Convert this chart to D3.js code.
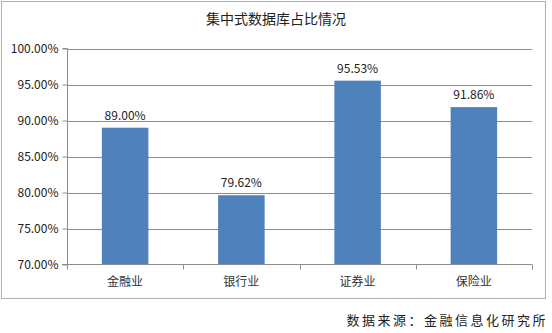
<!DOCTYPE html>
<html><head><meta charset="utf-8">
<script src="https://cdn.jsdelivr.net/npm/d3@7"></script>
<style>body{margin:0;background:#fff}svg{display:block}</style>
</head><body>
<script>
const title = "集中式数据库占比情况";
const categories = ["金融业", "银行业", "证券业", "保险业"];
const values = [89.00, 79.62, 95.53, 91.86];
const yTicks = [70, 75, 80, 85, 90, 95, 100];
const source = "数据来源：金融信息化研究所";

const W = 552, H = 333;
const svg = d3.select("body").append("svg").attr("width", W).attr("height", H);
const font = "'Noto Sans CJK SC', 'Noto Sans', sans-serif";

svg.append("rect").attr("x", 1.5).attr("y", 1.5).attr("width", 544).attr("height", 297)
  .attr("fill", "#fff").attr("stroke", "#b0b0b0").attr("stroke-width", 1);

const x = d3.scaleBand().domain(categories).range([67, 532]).paddingInner(0.6).paddingOuter(0.3);
const xOuter = d3.scaleBand().domain(categories).range([67, 532]);
const y = d3.scaleLinear().domain([70, 100]).range([264.5, 48.5]);

// gridlines
svg.append("g").selectAll("line").data(yTicks.slice(1)).join("line")
  .attr("x1", 67).attr("x2", 532).attr("y1", d => Math.round(y(d)) + 0.5).attr("y2", d => Math.round(y(d)) + 0.5)
  .attr("stroke", "#8c8c8c").attr("stroke-width", 1);

// y axis
const yAxis = d3.axisLeft(y).tickValues(yTicks).tickFormat(d => d.toFixed(2) + "%").tickSize(5).tickPadding(4);
const gy = svg.append("g").attr("transform", "translate(67.5,0)").call(yAxis);
gy.select(".domain").attr("stroke", "#8c8c8c").attr("d", `M-5,${y(100)}H0V${y(70)}H-5`);
gy.selectAll(".tick line").attr("stroke", "#8c8c8c");
gy.selectAll("text").attr("font-family", font).attr("font-size", 12).attr("fill", "#222");

// bars
svg.append("g").selectAll("rect").data(values).join("rect")
  .attr("x", (d, i) => x(categories[i]))
  .attr("width", x.bandwidth())
  .attr("y", d => y(d))
  .attr("height", d => y(70) - y(d))
  .attr("fill", "#4f81bd");

// value labels
svg.append("g").selectAll("text").data(values).join("text")
  .attr("x", (d, i) => x(categories[i]) + x.bandwidth() / 2)
  .attr("y", d => y(d) - 8)
  .attr("text-anchor", "middle").attr("font-family", font).attr("font-size", 12).attr("fill", "#222")
  .text(d => d.toFixed(2) + "%");

// x axis
const gx = svg.append("g").attr("transform", `translate(0,${y(70)})`);
gx.append("line").attr("x1", 62).attr("x2", 532).attr("y1", 0).attr("y2", 0).attr("stroke", "#8c8c8c");
const xTickPos = [67].concat(categories.map(c => xOuter(c) + xOuter.bandwidth()));
gx.selectAll("line.t").data(xTickPos).join("line").attr("class", "t")
  .attr("x1", d => Math.round(d) + 0.5).attr("x2", d => Math.round(d) + 0.5).attr("y1", 0).attr("y2", 5).attr("stroke", "#8c8c8c");
gx.selectAll("text").data(categories).join("text")
  .attr("x", d => xOuter(d) + xOuter.bandwidth() / 2).attr("y", 21)
  .attr("text-anchor", "middle").attr("font-family", font).attr("font-size", 12).attr("fill", "#333")
  .text(d => d);

// title
svg.append("text").attr("x", 276).attr("y", 24).attr("text-anchor", "middle")
  .attr("font-family", font).attr("font-size", 14).attr("fill", "#222").text(title);

// source
svg.append("text").attr("x", 548).attr("y", 325).attr("text-anchor", "end")
  .attr("font-family", font).attr("font-size", 13).attr("letter-spacing", 2.5).attr("fill", "#222").text(source);
</script>
</body></html>
